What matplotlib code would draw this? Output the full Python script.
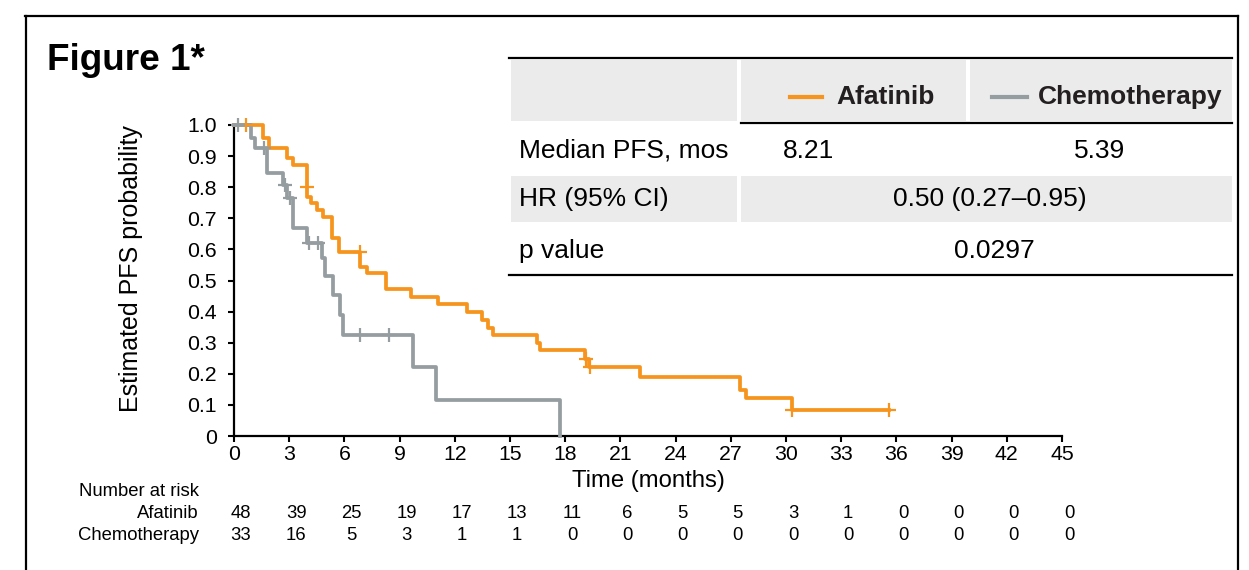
import matplotlib
matplotlib.use("Agg")
import matplotlib.pyplot as plt
from matplotlib.lines import Line2D
from matplotlib.patches import Rectangle
from matplotlib.transforms import blended_transform_factory, ScaledTranslation

plt.rcParams['font.family'] = ['Liberation Sans', 'DejaVu Sans']

# ---------------- data ----------------
afa_times = [0, 1.55, 1.9, 2.9, 3.2, 3.95, 3.98, 4.2, 4.5, 4.85, 5.31, 5.72, 6.87, 7.25,
             8.25, 9.6, 11.1, 12.65, 13.5, 13.8, 14.05, 16.45, 16.63, 19.1, 19.3, 22.05,
             27.5, 27.8, 30.3]
afa_surv = [1.0, 0.958, 0.925, 0.895, 0.871, 0.80, 0.77, 0.75, 0.727, 0.704, 0.636, 0.593,
            0.545, 0.523, 0.472, 0.447, 0.425, 0.40, 0.373, 0.348, 0.325, 0.30, 0.277,
            0.248, 0.222, 0.19, 0.148, 0.122, 0.084]
afa_end = 35.6
afa_cens_t = [0.64, 3.96, 6.85, 19.15, 19.35, 30.35, 35.6]
afa_cens_s = [1.0, 0.80, 0.593, 0.248, 0.222, 0.084, 0.084]

chemo_times = [0, 0.93, 1.15, 1.8, 2.65, 2.9, 3.2, 3.95, 4.8, 4.95, 5.4, 5.75, 5.95,
               9.75, 11.0, 17.7]
chemo_surv = [1.0, 0.958, 0.926, 0.845, 0.807, 0.765, 0.668, 0.62, 0.572, 0.515, 0.453,
              0.39, 0.325, 0.222, 0.115, 0.0]
chemo_end = 17.7
chemo_cens_t = [0.2, 1.65, 2.75, 3.05, 4.1, 4.55, 6.85, 8.4]
chemo_cens_s = [1.0, 0.926, 0.807, 0.765, 0.62, 0.62, 0.325, 0.325]

x_ticks = list(range(0, 46, 3))
y_ticks = [0, 0.1, 0.2, 0.3, 0.4, 0.5, 0.6, 0.7, 0.8, 0.9, 1.0]
y_ticklabels = ["0", "0.1", "0.2", "0.3", "0.4", "0.5", "0.6", "0.7", "0.8", "0.9", "1.0"]

risk_afa = [48, 39, 25, 19, 17, 13, 11, 6, 5, 5, 3, 1, 0, 0, 0, 0]
risk_chemo = [33, 16, 5, 3, 1, 1, 0, 0, 0, 0, 0, 0, 0, 0, 0, 0]

table_rows = ["Median PFS, mos", "HR (95% CI)", "p value"]
median_afa = "8.21"
median_chemo = "5.39"
hr_text = "0.50 (0.27\u20130.95)"
p_text = "0.0297"

ORANGE = '#F7941D'
GRAY = '#959DA1'
CELL = '#EBEBEB'

W, H = 1249, 570
fig = plt.figure(figsize=(W / 100, H / 100), dpi=100)


def fx(x):
    return x / W


def fy(y):
    return 1 - y / H


ax = fig.add_axes([fx(234), fy(436), (1062 - 234) / W, (436 - 125) / H])

for t, s, end, col in [(afa_times, afa_surv, afa_end, ORANGE),
                       (chemo_times, chemo_surv, chemo_end, GRAY)]:
    xs = list(t) + [end]
    ys = list(s) + [s[-1]]
    ax.step(xs, ys, where='post', color=col, lw=2.7, clip_on=False, zorder=3)

ax.plot(afa_cens_t, afa_cens_s, ls='none', marker='+', ms=10, mew=1.6, color=ORANGE,
        clip_on=False, zorder=4)
ax.plot(chemo_cens_t, chemo_cens_s, ls='none', marker='+', ms=10, mew=1.6, color=GRAY,
        clip_on=False, zorder=4)

ax.set_xlim(0, 45)
ax.set_ylim(0, 1.0)
ax.set_xticks(x_ticks)
ax.set_yticks(y_ticks)
ax.set_yticklabels(y_ticklabels)
for sp in ['top', 'right']:
    ax.spines[sp].set_visible(False)
for sp in ['left', 'bottom']:
    ax.spines[sp].set_linewidth(1.6)
ax.tick_params(axis='both', direction='out', length=4.5, width=1.5, labelsize=15.3, colors='black')
ax.tick_params(axis='y', pad=8)
ax.tick_params(axis='x', pad=2)

fig.text(fx(131), fy(269), "Estimated PFS probability", rotation=90, ha='center',
         va='center', fontsize=18)
fig.text(fx(648), fy(481), "Time (months)", ha='center', va='center', fontsize=17.2)

# number at risk
rfs = 13.3
fig.text(fx(199), fy(491), "Number at risk", ha='right', va='center', fontsize=rfs)
fig.text(fx(199), fy(513), "Afatinib", ha='right', va='center', fontsize=rfs)
fig.text(fx(199), fy(535), "Chemotherapy", ha='right', va='center', fontsize=rfs)
tr = blended_transform_factory(ax.transData, fig.transFigure) + \
    ScaledTranslation(7 / 100, 0, fig.dpi_scale_trans)
for xt, a, c in zip(x_ticks, risk_afa, risk_chemo):
    fig.text(xt, fy(513), str(a), transform=tr, ha='center', va='center', fontsize=rfs)
    fig.text(xt, fy(535), str(c), transform=tr, ha='center', va='center', fontsize=rfs)

# title
fig.text(fx(47), fy(61), "Figure 1*", ha='left', va='center', fontsize=26.6, fontweight='bold')

# outer frame
for (x0, y0, x1, y1) in [(26, 16, 26, 575), (25, 16, 1238, 16), (1238, 16, 1238, 575)]:
    fig.add_artist(Line2D([fx(x0), fx(x1)], [fy(y0), fy(y1)], color='black', lw=1.6,
                          transform=fig.transFigure))


# table
def rect(x0, y0, x1, y1, color):
    fig.add_artist(Rectangle((fx(x0), fy(y1)), fx(x1) - fx(x0), fy(y0) - fy(y1),
                             facecolor=color, edgecolor='none', transform=fig.transFigure))


def hline(x0, x1, y, lw=1.6):
    fig.add_artist(Line2D([fx(x0), fx(x1)], [fy(y), fy(y)], color='black', lw=lw,
                          transform=fig.transFigure))


TR = 1232
rect(511, 60, 737, 121, CELL)
rect(741, 60, 966, 121, CELL)
rect(970, 60, TR, 121, CELL)
rect(511, 176, 737, 222, CELL)
rect(741, 176, TR, 222, CELL)
hline(509, TR, 58)
hline(741, TR, 123)
hline(509, TR, 275)

fs = 19
fig.add_artist(Line2D([fx(790), fx(822)], [fy(97), fy(97)], color=ORANGE, lw=3,
                      transform=fig.transFigure))
fig.text(fx(836), fy(97), "Afatinib", ha='left', va='center', fontsize=fs,
         fontweight='bold', color='#231F20')
fig.add_artist(Line2D([fx(992), fx(1027)], [fy(97), fy(97)], color=GRAY, lw=3,
                      transform=fig.transFigure))
fig.text(fx(1038), fy(97), "Chemotherapy", ha='left', va='center', fontsize=fs,
         fontweight='bold', color='#231F20')

for label, yy in zip(table_rows, [151, 199, 251]):
    fig.text(fx(519), fy(yy), label, ha='left', va='center', fontsize=fs)
fig.text(fx(808), fy(151), median_afa, ha='center', va='center', fontsize=fs)
fig.text(fx(1100), fy(151), median_chemo, ha='center', va='center', fontsize=fs)
fig.text(fx(990), fy(199), hr_text, ha='center', va='center', fontsize=fs)
fig.text(fx(994), fy(251), p_text, ha='center', va='center', fontsize=fs)

fig.savefig("out.png", dpi=100)
